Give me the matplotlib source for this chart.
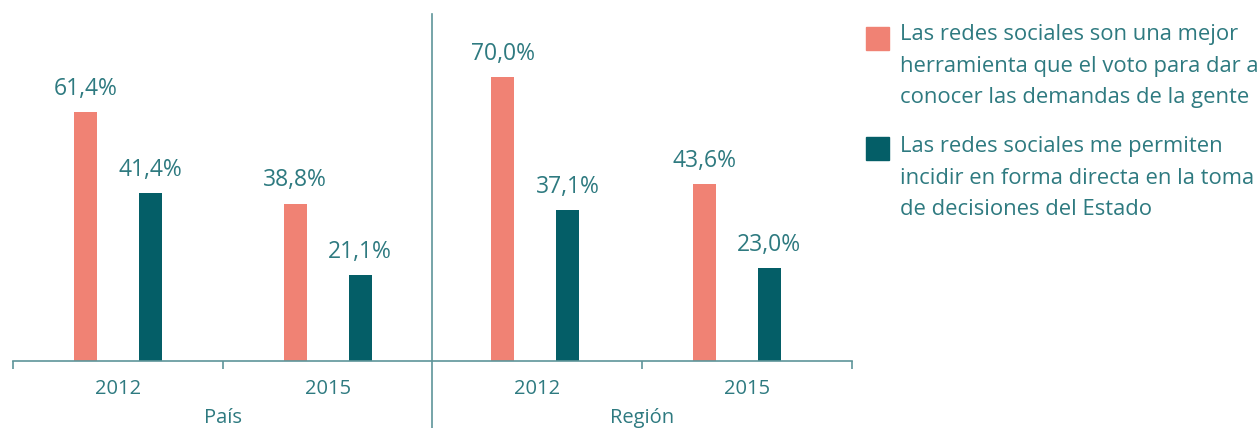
import matplotlib
matplotlib.use("Agg")
import matplotlib.pyplot as plt
from matplotlib.patches import Rectangle
import numpy as np

# data
years = ["2012", "2015", "2012", "2015"]
regions = ["País", "Región"]
mejor_herramienta = [61.4, 38.8, 70.0, 43.6]
incidir_directo = [41.4, 21.1, 37.1, 23.0]
legend_labels = [
    "Las redes sociales son una mejor\nherramienta que el voto para dar a\nconocer las demandas de la gente",
    "Las redes sociales me permiten\nincidir en forma directa en la toma\nde decisiones del Estado",
]

salmon = "#F08274"
teal = "#045E67"
text_color = "#2E7A80"
axis_color = "#5E9599"

plt.rcParams["font.family"] = ["Open Sans", "DejaVu Sans"]

fig = plt.figure(figsize=(12.6, 4.28), dpi=100)
ax = fig.add_axes([13 / 1260, 67 / 428, 839 / 1260, 347 / 428])

x = np.arange(len(years))
# pairs in the original are not quite centred in their slots
shift = np.array([0.0, 0.0, -0.01, -0.05])
w = 0.11
b1 = ax.bar(x + shift - 0.155, mejor_herramienta, w, color=salmon)
b2 = ax.bar(x + shift + 0.155, incidir_directo, w, color=teal)

def fmt(v):
    return f"{v:.1f}%".replace(".", ",")

for bars, vals in ((b1, mejor_herramienta), (b2, incidir_directo)):
    for rect, v in zip(bars, vals):
        ax.annotate(fmt(v), (rect.get_x() + rect.get_width() / 2, rect.get_height()),
                    xytext=(0, 8), textcoords="offset points",
                    ha="center", va="bottom", fontsize=16.5, color=text_color)

ax.set_xlim(-0.5, 3.5)
ax.set_ylim(0, 85.5)
ax.set_yticks([])
for s in ("top", "right", "left"):
    ax.spines[s].set_visible(False)
ax.spines["bottom"].set_color(axis_color)
ax.spines["bottom"].set_linewidth(1.2)

ax.set_xticks([-0.5, 0.5, 2.5, 3.5])
ax.set_xticklabels([])
ax.tick_params(axis="x", which="major", length=6, width=1.2, color=axis_color)
ax.set_xticks(x, minor=True)
ax.set_xticklabels(years, minor=True)
ax.tick_params(axis="x", which="minor", length=0, pad=13, labelsize=14.5, labelcolor=text_color)

# separator between groups
ax.axvline(1.5, ymin=-0.2, ymax=1, color=axis_color, linewidth=1.2, clip_on=False)

# group labels
for i, r in enumerate(regions):
    ax.text(2 * i + 0.5, -57 / 347, r, transform=ax.get_xaxis_transform(),
            ha="center", va="center", fontsize=14.5, color=text_color)

# legend
for i, (lab, col) in enumerate(zip(legend_labels, [salmon, teal])):
    top = 27 + i * 110
    fig.patches.append(Rectangle((866 / 1260, 1 - (top + 23) / 428), 23 / 1260, 23 / 428,
                                 transform=fig.transFigure, color=col))
    fig.text(900 / 1260, 1 - (top + 2 * i - 3) / 428, lab, ha="left", va="top",
             fontsize=15.8, color=text_color, linespacing=1.66)

fig.savefig("out.png", dpi=100)
